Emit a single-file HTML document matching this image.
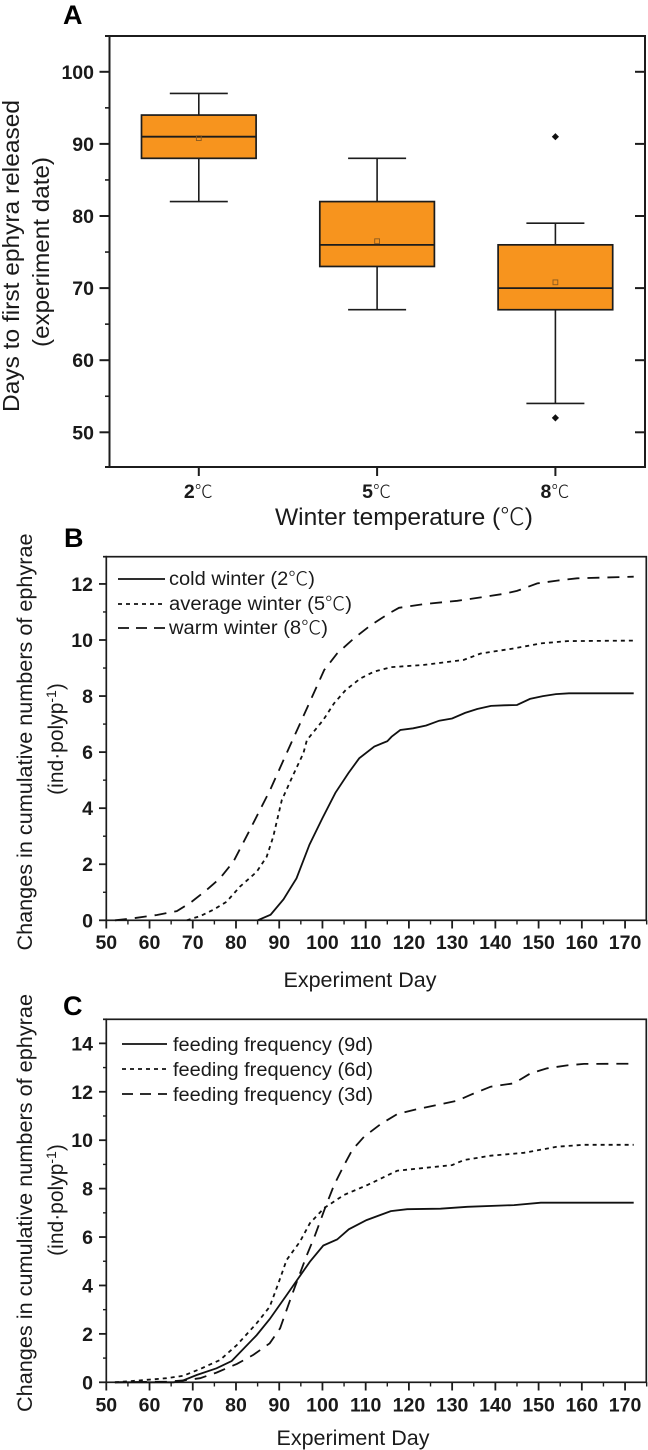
<!DOCTYPE html>
<html lang="en">
<head>
<meta charset="utf-8">
<title>Ephyra release charts</title>
<style>
html,body{margin:0;padding:0;background:#fff;}
svg{display:block;}
text{font-family:"Liberation Sans","Noto Sans CJK SC",sans-serif;fill:#1a1a1a;}
.tick{font-size:19.5px;font-weight:bold;}
.title{font-size:23px;}
.sub{font-size:21px;}
.legend{font-size:19px;}
.panel{font-size:27px;font-weight:bold;fill:#000;}
.cjk{font-family:"Noto Sans CJK SC","Liberation Sans",sans-serif;font-weight:300;}
</style>
</head>
<body>
<svg id="figure" xmlns="http://www.w3.org/2000/svg" width="648" height="1450" viewBox="0 0 648 1450">
  <rect x="0" y="0" width="648" height="1450" fill="#fff"/>
  <text class="panel" x="63" y="24">A</text>
  <text class="panel" x="64" y="547">B</text>
  <text class="panel" x="63" y="1015">C</text>

  <text class="title" transform="translate(19,256) rotate(-90)" text-anchor="middle" textLength="312" lengthAdjust="spacingAndGlyphs">Days to first ephyra released</text>
  <text class="title" transform="translate(49,252) rotate(-90)" text-anchor="middle" textLength="190" lengthAdjust="spacingAndGlyphs">(experiment date)</text>
  <text class="title" x="404" y="525" text-anchor="middle" textLength="258" lengthAdjust="spacingAndGlyphs" style="font-size:24px">Winter temperature (<tspan class="cjk">℃</tspan>)</text>

  <text class="sub" transform="translate(32,742) rotate(-90)" text-anchor="middle" textLength="417" lengthAdjust="spacingAndGlyphs">Changes in cumulative numbers of ephyrae</text>
  <text class="sub" transform="translate(63,739) rotate(-90)" text-anchor="middle">(ind·polyp<tspan dy="-7" style="font-size:14px">-1</tspan><tspan dy="7">)</tspan></text>
  <text class="sub" x="360" y="987" text-anchor="middle" textLength="153" lengthAdjust="spacingAndGlyphs">Experiment Day</text>

  <text class="sub" transform="translate(32,1203) rotate(-90)" text-anchor="middle" textLength="418" lengthAdjust="spacingAndGlyphs">Changes in cumulative numbers of ephyrae</text>
  <text class="sub" transform="translate(63,1200) rotate(-90)" text-anchor="middle">(ind·polyp<tspan dy="-7" style="font-size:14px">-1</tspan><tspan dy="7">)</tspan></text>
  <text class="sub" x="353" y="1445" text-anchor="middle" textLength="153" lengthAdjust="spacingAndGlyphs">Experiment Day</text>

  <g>
    <line x1="118" x2="165" y1="579" y2="579" stroke="#111" stroke-width="1.8"/>
    <text class="legend" x="169" y="585" textLength="146" lengthAdjust="spacingAndGlyphs">cold winter (2<tspan class="cjk">℃</tspan>)</text>
    <line x1="118" x2="165" y1="604" y2="604" stroke="#111" stroke-width="1.8" stroke-dasharray="4 4"/>
    <text class="legend" x="169" y="610" textLength="183" lengthAdjust="spacingAndGlyphs">average winter (5<tspan class="cjk">℃</tspan>)</text>
    <line x1="118" x2="165" y1="628" y2="628" stroke="#111" stroke-width="1.8" stroke-dasharray="11 7"/>
    <text class="legend" x="169" y="634" textLength="159" lengthAdjust="spacingAndGlyphs">warm winter (8<tspan class="cjk">℃</tspan>)</text>
  </g>
  <g>
    <line x1="122" x2="167" y1="1044" y2="1044" stroke="#111" stroke-width="1.8"/>
    <text class="legend" x="173" y="1051" textLength="200" lengthAdjust="spacingAndGlyphs">feeding frequency (9d)</text>
    <line x1="122" x2="167" y1="1069" y2="1069" stroke="#111" stroke-width="1.8" stroke-dasharray="4 4"/>
    <text class="legend" x="173" y="1076" textLength="200" lengthAdjust="spacingAndGlyphs">feeding frequency (6d)</text>
    <line x1="122" x2="167" y1="1094" y2="1094" stroke="#111" stroke-width="1.8" stroke-dasharray="11 7"/>
    <text class="legend" x="173" y="1101" textLength="200" lengthAdjust="spacingAndGlyphs">feeding frequency (3d)</text>
  </g>
</svg>
<script>
// Panel A data
const tempCategories = ['2', '5', '8'];
const boxQ1 = [88, 73, 67];
const boxMedian = [91, 76, 70];
const boxQ3 = [94, 82, 76];
const whiskerLow = [82, 67, 54];
const whiskerHigh = [97, 88, 79];
const boxMean = [90.8, 76.5, 70.8];
const outlierCategory = [2, 2];
const outlierValue = [91, 52];
const aYTicks = [50, 60, 70, 80, 90, 100];
const aYMinorTicks = [55, 65, 75, 85, 95];

// Panel B data
const bYTicks = [0, 2, 4, 6, 8, 10, 12];
const bYMinorTicks = [1, 3, 5, 7, 9, 11];
const coldDays = [85, 88, 91, 94, 97, 100, 103, 106, 108.5, 112, 115, 116, 118, 121, 124, 127, 130, 133, 135.8, 139, 142, 145, 148, 151, 154, 157, 172];
const coldValues = [0, 0.2, 0.75, 1.5, 2.7, 3.65, 4.55, 5.25, 5.78, 6.2, 6.39, 6.55, 6.79, 6.85, 6.95, 7.12, 7.2, 7.4, 7.54, 7.65, 7.67, 7.68, 7.9, 8.0, 8.07, 8.1, 8.1];
const averageDays = [68.6, 71.7, 74.7, 77.8, 80.9, 84.8, 87.1, 88.6, 90.6, 93.2, 95.6, 96.4, 100.2, 102.7, 105.4, 108.8, 111.9, 115.8, 123.5, 132.7, 136.6, 144.3, 150.5, 156.6, 172];
const averageValues = [0, 0.15, 0.37, 0.66, 1.2, 1.73, 2.27, 2.98, 4.29, 5.18, 5.96, 6.43, 7.15, 7.74, 8.22, 8.63, 8.87, 9.03, 9.11, 9.29, 9.52, 9.7, 9.88, 9.96, 9.98];
const warmDays = [52, 56.2, 61.7, 66.3, 69.4, 73.2, 76.3, 79.4, 83.2, 87.9, 91.7, 95.2, 100.4, 103.4, 107.3, 111.2, 115.4, 117.7, 123.5, 131.2, 136.6, 142, 145, 149.7, 154.3, 158.9, 172];
const warmValues = [0, 0.07, 0.19, 0.33, 0.62, 1.08, 1.5, 2.09, 3.22, 4.65, 5.96, 7.15, 8.93, 9.52, 10.06, 10.53, 10.95, 11.15, 11.28, 11.4, 11.52, 11.65, 11.75, 12.02, 12.12, 12.2, 12.26];

// Panel C data
const cYTicks = [0, 2, 4, 6, 8, 10, 12, 14];
const cYMinorTicks = [1, 3, 5, 7, 9, 11, 13];
const nineDays = [52, 65.5, 67.4, 70.9, 75.5, 79, 84.8, 87.8, 91.7, 97.1, 100.2, 103.4, 106.1, 110.2, 115.8, 119.6, 127.3, 133.5, 144.3, 150.5, 172];
const nineValues = [0, 0, 0.05, 0.3, 0.58, 0.88, 1.95, 2.61, 3.6, 4.98, 5.65, 5.9, 6.32, 6.7, 7.07, 7.15, 7.17, 7.25, 7.32, 7.42, 7.42];
const sixDays = [52, 57.8, 63.9, 67.8, 71.7, 76.3, 80.2, 84.8, 87.8, 89.8, 91.7, 94.8, 97.1, 100.4, 105, 110.4, 117.3, 130, 132.7, 138.9, 146.6, 154.3, 160.5, 172];
const sixValues = [0, 0.08, 0.17, 0.27, 0.55, 0.92, 1.54, 2.44, 3.12, 4.09, 5.05, 5.81, 6.57, 7.2, 7.74, 8.15, 8.74, 8.97, 9.18, 9.36, 9.48, 9.73, 9.81, 9.81];
const threeDays = [52, 64, 68, 71.7, 75.5, 80.2, 84, 87.8, 90.2, 91.7, 93.2, 96.4, 98.3, 100.7, 102.7, 105, 106.9, 109.6, 113.5, 117.3, 121.9, 131.2, 134.2, 138.9, 144.3, 148.1, 152, 156.6, 160.5, 172];
const threeValues = [0, 0.03, 0.08, 0.17, 0.4, 0.76, 1.13, 1.61, 2.23, 2.99, 3.74, 5.26, 6.08, 7.25, 8.15, 8.97, 9.6, 10.14, 10.67, 11.08, 11.28, 11.63, 11.87, 12.21, 12.35, 12.76, 12.97, 13.09, 13.15, 13.16];

// Shared day axis
const dayTicks = [50, 60, 70, 80, 90, 100, 110, 120, 130, 140, 150, 160, 170];
const dayMinorTicks = [55, 65, 75, 85, 95, 105, 115, 125, 135, 145, 155, 165, 175];

const NS = 'http://www.w3.org/2000/svg';
const svg = document.getElementById('figure');
const INK = '#1c1c1c';

function make(tag, attrs, parent) {
  const node = document.createElementNS(NS, tag);
  for (const key in attrs) node.setAttribute(key, attrs[key]);
  (parent || svg).appendChild(node);
  return node;
}

// Scales
const aCatX = i => 198.8 + i * 178.3;
const aY = v => 432.3 - (v - 50) * 7.21;
const dayX = d => 106.3 + (d - 50) * 4.323;
const bY = v => 920.3 - v * 28.03;
const cY = v => 1382.3 - v * 24.21;

// ---- Panel A ----
const frameA = make('rect', {x: 109.5, y: 36, width: 535.5, height: 431, fill: 'none', stroke: INK, 'stroke-width': 2});



aYTicks.forEach(v => {
  const left = make('line', {x1: 99.5, x2: 109.5, y1: aY(v), y2: aY(v), stroke: INK, 'stroke-width': 2});
  
  
  const right = make('line', {x1: 635, x2: 645, y1: aY(v), y2: aY(v), stroke: INK, 'stroke-width': 2});
  
  
  const label = make('text', {class: 'tick', x: 94, y: aY(v) + 7, 'text-anchor': 'end'});
  label.textContent = v;
  
  
});
aYMinorTicks.forEach(v => {
  const minor = make('line', {x1: 105, x2: 109.5, y1: aY(v), y2: aY(v), stroke: INK, 'stroke-width': 1.6});
  
  
});
const aTop = make('line', {x1: 105, x2: 110, y1: 36, y2: 36, stroke: INK, 'stroke-width': 2});


const aBottom = make('line', {x1: 105, x2: 110, y1: 467, y2: 467, stroke: INK, 'stroke-width': 2});



tempCategories.forEach((c, i) => {
  const x = aCatX(i);
  const tick = make('line', {x1: x, x2: x, y1: 467, y2: 476, stroke: INK, 'stroke-width': 2});
  
  
  const label = make('text', {class: 'tick', x: x - 0.5, y: 498, 'text-anchor': 'middle'});
  
  
  const digit = make('tspan', {}, label);
  digit.textContent = c;
  const unit = make('tspan', {class: 'cjk', style: 'font-size:18px'}, label);
  unit.textContent = '℃';

  const whisker = make('line', {x1: x, x2: x, y1: aY(whiskerHigh[i]), y2: aY(whiskerLow[i]), stroke: INK, 'stroke-width': 1.6});
  
  
  const capHigh = make('line', {x1: x - 29, x2: x + 29, y1: aY(whiskerHigh[i]), y2: aY(whiskerHigh[i]), stroke: INK, 'stroke-width': 1.6});
  
  
  const capLow = make('line', {x1: x - 29, x2: x + 29, y1: aY(whiskerLow[i]), y2: aY(whiskerLow[i]), stroke: INK, 'stroke-width': 1.6});
  
  
  const box = make('rect', {x: x - 57.3, y: aY(boxQ3[i]), width: 114.6, height: aY(boxQ1[i]) - aY(boxQ3[i]), fill: '#F7941E', stroke: INK, 'stroke-width': 1.7});
  
  
  const median = make('line', {x1: x - 57.3, x2: x + 57.3, y1: aY(boxMedian[i]), y2: aY(boxMedian[i]), stroke: INK, 'stroke-width': 1.8});
  
  
  const mean = make('rect', {x: x - 2.4, y: aY(boxMean[i]) - 2.4, width: 4.8, height: 4.8, fill: 'none', stroke: '#8a5a20', 'stroke-width': 0.9});
  
  
});

outlierValue.forEach((v, i) => {
  const x = aCatX(outlierCategory[i]);
  const y = aY(v);
  const diamond = make('path', {d: 'M' + x + ' ' + (y - 3.6) + 'L' + (x + 3.6) + ' ' + y + 'L' + x + ' ' + (y + 3.6) + 'L' + (x - 3.6) + ' ' + y + 'Z', fill: '#111'});
  
  
});

// ---- Line panels ----
function linePoints(days, values, yScale) {
  return days.map((d, i) => dayX(d).toFixed(1) + ',' + yScale(values[i]).toFixed(1)).join(' ');
}

// Panel B axes
const frameB = make('rect', {x: 106.3, y: 556.7, width: 540, height: 363.6, fill: 'none', stroke: INK, 'stroke-width': 1.7});


const bTop = make('line', {x1: 103, x2: 107, y1: 556.7, y2: 556.7, stroke: INK, 'stroke-width': 1.7});


bYTicks.forEach(v => {
  const tick = make('line', {x1: 99, x2: 106.3, y1: bY(v), y2: bY(v), stroke: INK, 'stroke-width': 1.8});
  
  
  const label = make('text', {class: 'tick', x: 93, y: bY(v) + 7, 'text-anchor': 'end'});
  label.textContent = v;
  
  
});
bYMinorTicks.forEach(v => {
  const minor = make('line', {x1: 103, x2: 106.3, y1: bY(v), y2: bY(v), stroke: INK, 'stroke-width': 1.4});
  
  
});
dayTicks.forEach(d => {
  const tick = make('line', {x1: dayX(d), x2: dayX(d), y1: 920.3, y2: 928.5, stroke: INK, 'stroke-width': 1.8});
  
  
  const label = make('text', {class: 'tick', x: dayX(d), y: 949, 'text-anchor': 'middle'});
  label.textContent = d;
  
  
});
dayMinorTicks.forEach(d => {
  const minor = make('line', {x1: dayX(d), x2: dayX(d), y1: 920.3, y2: 924.5, stroke: INK, 'stroke-width': 1.4});
  
  
});

// Panel B series
const coldLine = make('polyline', {points: linePoints(coldDays, coldValues, bY), fill: 'none', stroke: '#111', 'stroke-width': 1.8});


const averageLine = make('polyline', {points: linePoints(averageDays, averageValues, bY), fill: 'none', stroke: '#111', 'stroke-width': 1.8, 'stroke-dasharray': '4 4'});


const warmLine = make('polyline', {points: linePoints(warmDays, warmValues, bY), fill: 'none', stroke: '#111', 'stroke-width': 1.8, 'stroke-dasharray': '12 8'});



// Panel C axes
const frameC = make('rect', {x: 106.3, y: 1019.3, width: 540, height: 363, fill: 'none', stroke: INK, 'stroke-width': 1.7});


const cTop = make('line', {x1: 103, x2: 107, y1: 1019.3, y2: 1019.3, stroke: INK, 'stroke-width': 1.7});


cYTicks.forEach(v => {
  const tick = make('line', {x1: 99, x2: 106.3, y1: cY(v), y2: cY(v), stroke: INK, 'stroke-width': 1.8});
  
  
  const label = make('text', {class: 'tick', x: 93, y: cY(v) + 7, 'text-anchor': 'end'});
  label.textContent = v;
  
  
});
cYMinorTicks.forEach(v => {
  const minor = make('line', {x1: 103, x2: 106.3, y1: cY(v), y2: cY(v), stroke: INK, 'stroke-width': 1.4});
  
  
});
dayTicks.forEach(d => {
  const tick = make('line', {x1: dayX(d), x2: dayX(d), y1: 1382.3, y2: 1390.5, stroke: INK, 'stroke-width': 1.8});
  
  
  const label = make('text', {class: 'tick', x: dayX(d), y: 1411.5, 'text-anchor': 'middle'});
  label.textContent = d;
  
  
});
dayMinorTicks.forEach(d => {
  const minor = make('line', {x1: dayX(d), x2: dayX(d), y1: 1382.3, y2: 1386.5, stroke: INK, 'stroke-width': 1.4});
  
  
});

// Panel C series
const nineLine = make('polyline', {points: linePoints(nineDays, nineValues, cY), fill: 'none', stroke: '#111', 'stroke-width': 1.8});


const sixLine = make('polyline', {points: linePoints(sixDays, sixValues, cY), fill: 'none', stroke: '#111', 'stroke-width': 1.8, 'stroke-dasharray': '4 4'});


const threeLine = make('polyline', {points: linePoints(threeDays, threeValues, cY), fill: 'none', stroke: '#111', 'stroke-width': 1.8, 'stroke-dasharray': '12 8'});


</script>
</body>
</html>
